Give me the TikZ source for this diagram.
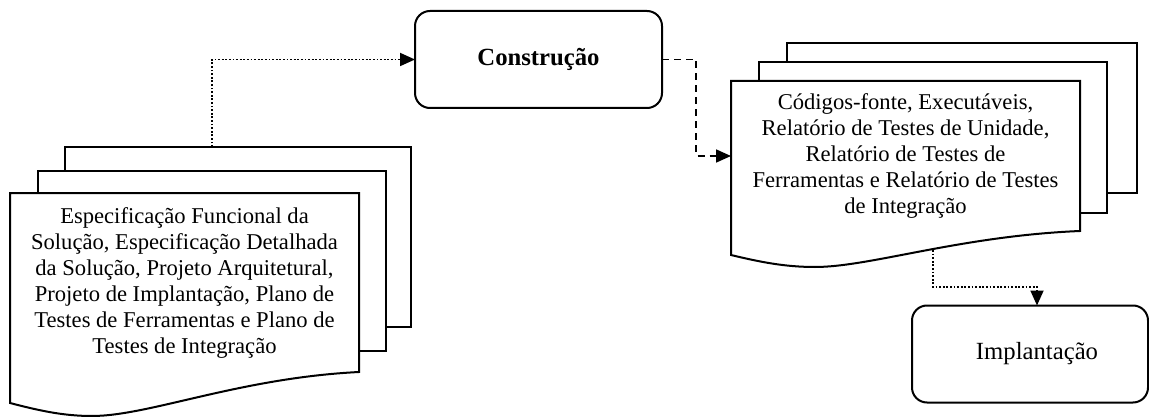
\documentclass[tikz,border=0pt]{standalone}
\usepackage{fontspec}
\setmainfont{Liberation Serif}
\usetikzlibrary{arrows.meta,calc}

\tikzset{
  page/.style={draw, fill=white, line width=2pt, rectangle, inner sep=0pt, outer sep=0pt},
  frame/.style={rectangle, inner sep=0pt, outer sep=0pt},
  docline/.style={draw, fill=white, line width=2pt, line join=miter},
  doctext/.style={align=center, inner sep=0pt, font={\fontsize{22.6pt}{26pt}\selectfont}},
  phase/.style={draw, rectangle, rounded corners=15pt, line width=2pt, inner sep=0pt,
                outer sep=0pt, minimum width=236pt, minimum height=97pt,
                font={\fontsize{24.7pt}{28pt}\selectfont}},
  tip/.style={-{Triangle[length=15pt,width=13pt]}},
  dotconn/.style={tip, line width=1.8pt, dash pattern=on 1.8pt off 1.8pt},
  dashconn/.style={tip, line width=1.8pt, dash pattern=on 7pt off 5pt},
}

\begin{document}
\begin{tikzpicture}[x=1pt, y=-1pt]
\useasboundingbox (0,0) rectangle (1149,417);

% ---- input documents (left stack) ----
\node[page, minimum width=346pt, minimum height=180pt] (backA) at (238,237) {};
\node[page, minimum width=348pt, minimum height=180pt] (midA) at (212,261) {};
\node[frame, minimum width=349pt, minimum height=179pt] (frA) at (184.5,282.5) {};
\path[docline] (frA.north west) -- (frA.north east) -- (frA.south east)
  .. controls ($(frA.south east)+(-120,6)$) and ($(frA.south east)+(-210,44)$)
  .. ($(frA.south east)+(-267,44)$)
  .. controls ($(frA.south east)+(-297,44)$) and ($(frA.south east)+(-322,38)$)
  .. ($(frA.south east)+(-349,31)$) -- cycle;
\node[doctext] (txtA) at (frA) {Especificação Funcional da\\
  Solução, Especificação Detalhada\\
  da Solução, Projeto Arquitetural,\\
  Projeto de Implantação, Plano de\\
  Testes de Ferramentas e Plano de\\
  Testes de Integração};

% ---- construction phase ----
\node[phase, minimum width=247pt] (constr) at (538.5,59.5) {\textbf{Construção}};

% ---- output documents (right stack) ----
\node[page, minimum width=350pt, minimum height=150pt] (backB) at (962,118) {};
\node[page, minimum width=348pt, minimum height=151pt] (midB) at (933,137.5) {};
\node[frame, minimum width=349pt, minimum height=150pt] (frB) at (905.5,156) {};
\path[docline] (frB.north west) -- (frB.north east) -- (frB.south east)
  .. controls ($(frB.south east)+(-120,5)$) and ($(frB.south east)+(-210,36)$)
  .. ($(frB.south east)+(-265,36)$)
  .. controls ($(frB.south east)+(-295,36)$) and ($(frB.south east)+(-320,31)$)
  .. ($(frB.south east)+(-349,24)$) -- cycle;
\node[doctext] (txtB) at (frB) {Códigos-fonte, Executáveis,\\
  Relatório de Testes de Unidade,\\
  Relatório de Testes de\\
  Ferramentas e Relatório de Testes\\
  de Integração};
\coordinate (outB) at (933,250);

% ---- deployment phase ----
\node[phase] (impl) at (1030,354) {\hspace*{14pt}Implantação};

% ---- connectors ----
\draw[dotconn] ([xshift=-26pt]backA.north) |- (constr.west);
\draw[dashconn] (constr.east) -- ++(34,0) |- (frB.west);
\draw[dotconn] (outB) -- ++(0,37) -| ([xshift=7pt]impl.north);
\end{tikzpicture}
\end{document}
